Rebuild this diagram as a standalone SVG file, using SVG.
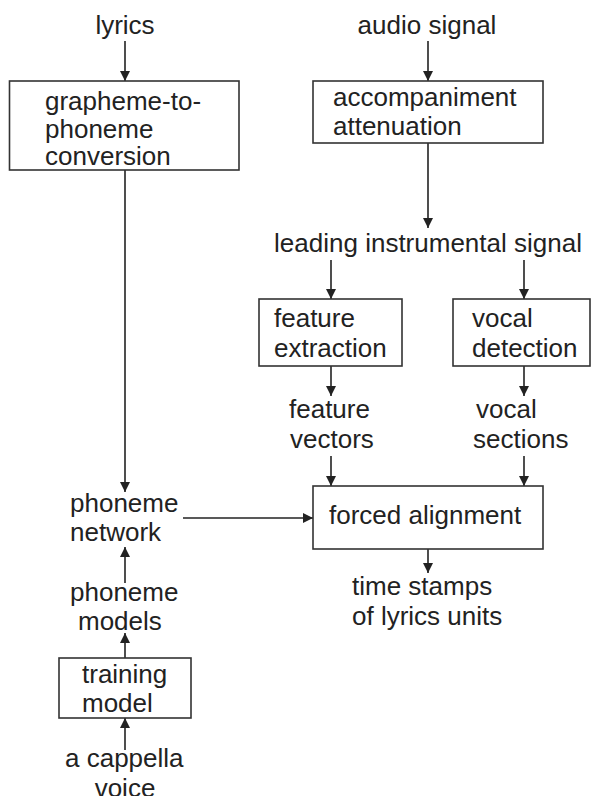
<svg xmlns="http://www.w3.org/2000/svg" width="591" height="796" viewBox="0 0 591 796">
<defs>
<style>
text{font-family:"Liberation Sans",Arial,sans-serif;font-size:26px;fill:#222}
.box{fill:#fff;stroke:#333;stroke-width:1.6}
.c{stroke:#222;stroke-width:1.6;fill:none;marker-end:url(#ah)}
.m{text-anchor:middle}
</style>
<marker id="ah" markerUnits="userSpaceOnUse" markerWidth="10" markerHeight="12" refX="10" refY="5" orient="auto">
<path d="M0,0 L10,5 L0,10 Z" fill="#222"/>
</marker>
</defs>
<rect width="591" height="796" fill="#fff"/>
<g id="connectors">
<line class="c" x1="125" y1="41" x2="125" y2="81"/>
<line class="c" x1="428" y1="41" x2="428" y2="81"/>
<line class="c" x1="428" y1="143" x2="428" y2="228"/>
<line class="c" x1="331" y1="260" x2="331" y2="299"/>
<line class="c" x1="524" y1="260" x2="524" y2="299"/>
<line class="c" x1="331" y1="366" x2="331" y2="396"/>
<line class="c" x1="524" y1="366" x2="524" y2="396"/>
<line class="c" x1="331" y1="456" x2="331" y2="486"/>
<line class="c" x1="524" y1="456" x2="524" y2="486"/>
<line class="c" x1="125" y1="170" x2="125" y2="492"/>
<line class="c" x1="183" y1="518" x2="313" y2="518"/>
<line class="c" x1="428" y1="549" x2="428" y2="573"/>
<line class="c" x1="125" y1="583" x2="125" y2="547"/>
<line class="c" x1="125" y1="658" x2="125" y2="633"/>
<line class="c" x1="125" y1="750" x2="125" y2="718"/>
</g>
<g id="lyrics"><text class="m" x="125" y="34">lyrics</text></g>
<g id="audio-signal"><text class="m" x="427" y="34">audio signal</text></g>
<g id="g2p">
<rect class="box" x="9.5" y="81" width="229.5" height="89"/>
<text x="45" y="110">grapheme-to-</text>
<text x="45" y="138">phoneme</text>
<text x="45" y="165">conversion</text>
</g>
<g id="accompaniment">
<rect class="box" x="313" y="81" width="230" height="62"/>
<text x="333" y="106">accompaniment</text>
<text x="333" y="135">attenuation</text>
</g>
<g id="leading"><text class="m" x="428" y="252">leading instrumental signal</text></g>
<g id="feature-extraction">
<rect class="box" x="259" y="299" width="143" height="67"/>
<text x="274" y="327">feature</text>
<text x="274" y="357">extraction</text>
</g>
<g id="vocal-detection">
<rect class="box" x="453" y="299" width="137" height="67"/>
<text x="472" y="327">vocal</text>
<text x="472" y="357">detection</text>
</g>
<g id="feature-vectors">
<text x="289" y="418">feature</text>
<text x="290" y="448">vectors</text>
</g>
<g id="vocal-sections">
<text x="476" y="418">vocal</text>
<text x="473" y="448">sections</text>
</g>
<g id="phoneme-network">
<text x="70" y="512">phoneme</text>
<text x="70" y="541">network</text>
</g>
<g id="forced-alignment">
<rect class="box" x="313" y="486" width="230" height="63"/>
<text x="329" y="524">forced alignment</text>
</g>
<g id="time-stamps">
<text x="352" y="595">time stamps</text>
<text x="352" y="625">of lyrics units</text>
</g>
<g id="phoneme-models">
<text x="70" y="601">phoneme</text>
<text x="78" y="630">models</text>
</g>
<g id="training-model">
<rect class="box" x="59" y="658" width="132" height="60"/>
<text x="82" y="683">training</text>
<text x="82" y="712">model</text>
</g>
<g id="a-cappella">
<text x="65" y="767">a cappella</text>
<text class="m" x="125" y="797">voice</text>
</g>
</svg>
